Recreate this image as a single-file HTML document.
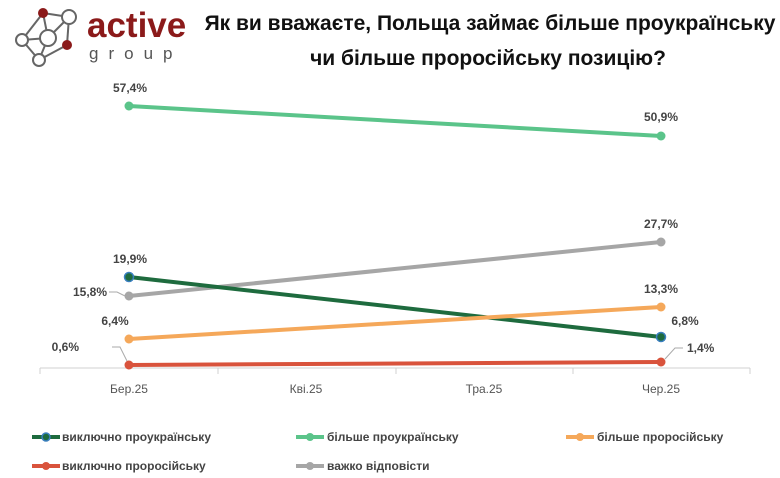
<!DOCTYPE html>
<html><head><meta charset="utf-8"><style>
body{margin:0;background:#fff;}
svg{display:block;font-family:"Liberation Sans",sans-serif;}
</style></head><body>
<svg width="780" height="478" viewBox="0 0 780 478">
<!-- logo -->
<g stroke="#666" stroke-width="2" fill="#fff">
<line x1="43" y1="13" x2="69" y2="17"/><line x1="43" y1="13" x2="22" y2="40"/><line x1="43" y1="13" x2="48" y2="38"/>
<line x1="69" y1="17" x2="48" y2="38"/><line x1="69" y1="17" x2="67" y2="45"/><line x1="22" y1="40" x2="48" y2="38"/>
<line x1="22" y1="40" x2="39" y2="60"/><line x1="48" y1="38" x2="39" y2="60"/><line x1="67" y1="45" x2="39" y2="60"/>
<circle cx="69" cy="17" r="7"/><circle cx="48" cy="38" r="8"/><circle cx="22" cy="40" r="6"/><circle cx="39" cy="60" r="6"/>
</g>
<circle cx="43" cy="13" r="5" fill="#8b1a1a"/><circle cx="67" cy="45" r="5" fill="#8b1a1a"/>
<text x="87" y="37" font-size="35" font-weight="bold" fill="#8b1a1a">active</text>
<text x="89" y="59" font-size="17" fill="#555" letter-spacing="10">group</text>
<text x="490" y="30" font-size="21" font-weight="bold" fill="#111" text-anchor="middle">Як ви вважаєте, Польща займає більше проукраїнську</text>
<text x="488" y="65" font-size="21" font-weight="bold" fill="#111" text-anchor="middle">чи більше проросійську позицію?</text>
<!-- axis -->
<g stroke="#d0d0d0" stroke-width="1">
<line x1="40" y1="368" x2="750" y2="368"/>
<line x1="40" y1="368" x2="40" y2="374"/><line x1="218" y1="368" x2="218" y2="374"/><line x1="396" y1="368" x2="396" y2="374"/><line x1="573" y1="368" x2="573" y2="374"/><line x1="750" y1="368" x2="750" y2="374"/>
</g>
<g font-size="12" fill="#555" text-anchor="middle">
<text x="129" y="393">Бер.25</text><text x="306" y="393">Кві.25</text><text x="484" y="393">Тра.25</text><text x="661" y="393">Чер.25</text>
</g>
<!-- series -->
<g stroke-width="4" stroke-linecap="round">
<line x1="129" y1="106" x2="661" y2="136" stroke="#5bc48a"/>
<line x1="129" y1="296" x2="661" y2="242" stroke="#a6a6a6"/>
<line x1="129" y1="277" x2="661" y2="337" stroke="#1e6b3e"/>
<line x1="129" y1="339" x2="661" y2="307" stroke="#f5a85a"/>
<line x1="129" y1="365" x2="661" y2="362" stroke="#d9533c"/>
</g>
<circle cx="129" cy="106" r="4.5" fill="#5bc48a"/><circle cx="661" cy="136" r="4.5" fill="#5bc48a"/>
<circle cx="129" cy="296" r="4.5" fill="#a6a6a6"/><circle cx="661" cy="242" r="4.5" fill="#a6a6a6"/>
<circle cx="129" cy="277" r="4.5" fill="#1e6b3e" stroke="#3a7fbf" stroke-width="1.5"/><circle cx="661" cy="337" r="4.5" fill="#1e6b3e" stroke="#3a7fbf" stroke-width="1.5"/>
<circle cx="129" cy="339" r="4.5" fill="#f5a85a"/><circle cx="661" cy="307" r="4.5" fill="#f5a85a"/>
<circle cx="129" cy="365" r="4.5" fill="#d9533c"/><circle cx="661" cy="362" r="4.5" fill="#d9533c"/>
<g stroke="#aaa" stroke-width="1" fill="none">
<polyline points="109,292 117,292 125,296"/><polyline points="112,347 120,347 127,361"/><polyline points="683,348 675,348 665,359"/>
</g>
<g font-size="12" font-weight="bold" fill="#444">
<text x="130" y="92" text-anchor="middle">57,4%</text>
<text x="661" y="121" text-anchor="middle">50,9%</text>
<text x="661" y="228" text-anchor="middle">27,7%</text>
<text x="130" y="263" text-anchor="middle">19,9%</text>
<text x="107" y="296" text-anchor="end">15,8%</text>
<text x="115" y="325" text-anchor="middle">6,4%</text>
<text x="661" y="293" text-anchor="middle">13,3%</text>
<text x="685" y="325" text-anchor="middle">6,8%</text>
<text x="79" y="351" text-anchor="end">0,6%</text>
<text x="687" y="352">1,4%</text>
</g>
<!-- legend -->
<g stroke-width="4">
<line x1="32" y1="437" x2="60" y2="437" stroke="#1e6b3e"/><circle cx="46" cy="437" r="4" fill="#1e6b3e" stroke="#3a7fbf" stroke-width="1.5"/>
<line x1="296" y1="437" x2="324" y2="437" stroke="#5bc48a"/><circle cx="310" cy="437" r="4" fill="#5bc48a" stroke="none"/>
<line x1="566" y1="437" x2="594" y2="437" stroke="#f5a85a"/><circle cx="580" cy="437" r="4" fill="#f5a85a" stroke="none"/>
<line x1="32" y1="466" x2="60" y2="466" stroke="#d9533c"/><circle cx="46" cy="466" r="4" fill="#d9533c" stroke="none"/>
<line x1="296" y1="466" x2="324" y2="466" stroke="#a6a6a6"/><circle cx="310" cy="466" r="4" fill="#a6a6a6" stroke="none"/>
</g>
<g font-size="12" font-weight="bold" fill="#444">
<text x="62" y="441">виключно проукраїнську</text>
<text x="327" y="441">більше проукраїнську</text>
<text x="597" y="441">більше проросійську</text>
<text x="62" y="470">виключно проросійську</text>
<text x="327" y="470">важко відповісти</text>
</g>
</svg>
</body></html>
